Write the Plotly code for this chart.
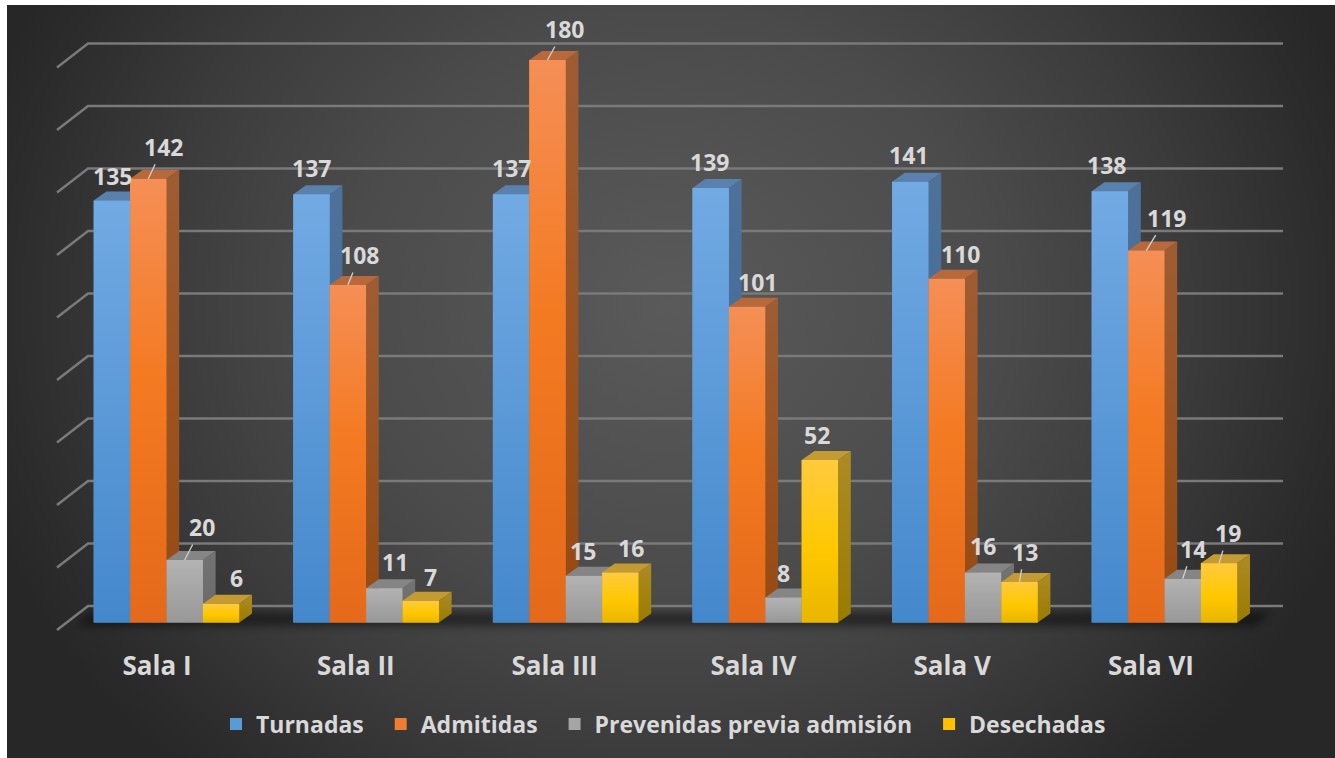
import base64
import plotly.graph_objects as go

# ---- data ----
categories = ["Sala I", "Sala II", "Sala III", "Sala IV", "Sala V", "Sala VI"]
turnadas = [135, 137, 137, 139, 141, 138]
admitidas = [142, 108, 180, 101, 110, 119]
prevenidas = [20, 11, 15, 8, 16, 14]
desechadas = [6, 7, 16, 52, 13, 19]
grid_values = [0, 20, 40, 60, 80, 100, 120, 140, 160, 180]

# ---- layout geometry (pixels of the 1335x758 page) ----
W, H = 1335, 758
PLOT_BOTTOM = 648
BASE_PX = 622.5
PX_PER_UNIT = 3.125
PX_PER_CAT = 199.6
CAT0_PX = 166.5


def dx(px):
    return px / PX_PER_CAT


def dy(px):
    return px / PX_PER_UNIT


BAR_W = dx(36.4)
DEPTH_X, DEPTH_Y = dx(12.7), dy(9)
GRID_BACK_Y = dy(16.5)
GRID_LEFT_BACK = dx(88 - CAT0_PX)
GRID_LEFT_FRONT = dx(57 - CAT0_PX)
GRID_RIGHT = dx(1283 - CAT0_PX)
GRID_FRONT_DROP = dy(24)

styles = [
    dict(name="Turnadas", values=turnadas, legend="#5b9bd5",
         front=[[0, "#72aae3"], [1, "#4488cc"]],
         side=[[0, "#4e7199"], [1, "#38699c"]], top="#5a81ad"),
    dict(name="Admitidas", values=admitidas, legend="#ed7d31",
         front=[[0, "#f58f56"], [0.45, "#f47a22"], [1, "#e4691a"]],
         side=[[0, "#9f5c33"], [1, "#974a10"]], top="#b7693c"),
    dict(name="Prevenidas previa admisión", values=prevenidas, legend="#a5a5a5",
         front=[[0, "#b3b3b3"], [1, "#989898"]],
         side=[[0, "#737373"], [1, "#696969"]], top="#858585"),
    dict(name="Desechadas", values=desechadas, legend="#ffc000",
         front=[[0, "#ffca3e"], [0.55, "#ffc800"], [1, "#e9b600"]],
         side=[[0, "#ad8b24"], [1, "#9a7b00"]], top="#c49a32"),
]

# label placement relative to the top of each bar: (dx px, dy px, leader)
label_offsets = [
    [(1, -25, 0), (0, -26, 0), (0, -26, 0), (-1, -26, 0), (-2, -27, 0), (-3, -26, 0)],
    [(15, -32, 1), (12, -30, 1), (17, -31, 1), (10, -25, 0), (14, -25, 0), (20, -33, 1)],
    [(17, -33, 1), (11, -26, 0), (-1, -25, 0), (0, -25, 0), (0, -27, 0), (10, -30, 1)],
    [(15, -26, 0), (10, -24, 0), (11, -25, 0), (-3, -25, 0), (5, -30, 1), (9, -30, 1)],
]

TEXT = "#d9d9d9"
FONT = "'Open Sans', Lato, sans-serif"
LEGEND_PAD = "\u00a0\u00a0"

# ---- background: radial gradient + soft floor shadow ----
BG_X, BG_Y = 7, 5
BG_W, BG_H = W - BG_X, H - BG_Y
svg = f"""<svg xmlns='http://www.w3.org/2000/svg' width='{BG_W}' height='{BG_H}' viewBox='0 0 {BG_W} {BG_H}'>
<defs>
<radialGradient id='g' gradientUnits='userSpaceOnUse' cx='0' cy='0' r='1' gradientTransform='translate(663 300) scale(720 640)'>
<stop offset='0' stop-color='#5a5a5a'/><stop offset='0.45' stop-color='#4b4b4b'/>
<stop offset='0.72' stop-color='#3b3b3b'/><stop offset='0.92' stop-color='#2c2c2c'/>
<stop offset='1' stop-color='#272727'/></radialGradient>
<filter id='b' x='-5%' y='-200%' width='110%' height='500%'><feGaussianBlur stdDeviation='4'/></filter>
</defs>
<rect width='{BG_W}' height='{BG_H}' fill='url(#g)'/>
<polygon points='68,621 1248,621 1265,607 85,607' fill='#000' fill-opacity='0.45' filter='url(#b)'/>
</svg>"""
bg_uri = "data:image/svg+xml;base64," + base64.b64encode(svg.encode()).decode()

fig = go.Figure()

# flat bars (give the legend entries and the value scale)
xs = list(range(len(categories)))
for k, st in enumerate(styles):
    fig.add_trace(go.Bar(x=xs, y=st["values"],
                         name=st["name"] + (LEGEND_PAD if k < len(styles) - 1 else ""),
                         marker=dict(color=st["legend"], line=dict(width=0)),
                         hoverinfo="skip"))

# grid: floor-to-back diagonal + back wall line
for g in grid_values:
    fig.add_trace(go.Scatter(
        x=[GRID_LEFT_FRONT, GRID_LEFT_BACK, GRID_RIGHT],
        y=[g + GRID_BACK_Y - GRID_FRONT_DROP, g + GRID_BACK_Y, g + GRID_BACK_Y],
        mode="lines", line=dict(color="#7a7a7a", width=2.5),
        showlegend=False, hoverinfo="skip"))


def poly(xv, yv, **kw):
    fig.add_trace(go.Scatter(x=xv, y=yv, mode="lines", fill="toself",
                             line=dict(width=0), showlegend=False,
                             hoverinfo="skip", **kw))


# 3-D faces, left to right so that nearer bars cover farther sides
for i in xs:
    for k, st in enumerate(styles):
        v = st["values"][i]
        x0 = i + (k - 2) * BAR_W
        x1 = x0 + BAR_W
        poly([x1, x1 + DEPTH_X, x1 + DEPTH_X, x1, x1],
             [0, DEPTH_Y, v + DEPTH_Y, v, 0],
             fillgradient=dict(type="vertical", colorscale=st["side"],
                               start=v + DEPTH_Y, stop=0))
        poly([x0, x1, x1 + DEPTH_X, x0 + DEPTH_X, x0],
             [v, v, v + DEPTH_Y, v + DEPTH_Y, v],
             fillcolor=st["top"])
        poly([x0, x1, x1, x0, x0], [0, 0, v, v, 0],
             fillgradient=dict(type="vertical", colorscale=st["front"],
                               start=v, stop=0))

# data labels
annotations = []
for k, st in enumerate(styles):
    for i, v in enumerate(st["values"]):
        ox, oy, leader = label_offsets[k][i]
        a = dict(x=i + (k - 1.5) * BAR_W, y=v, xref="x", yref="y", text=str(v),
                 font=dict(family=FONT, size=23, color=TEXT, weight="bold"),
                 xanchor="center", yanchor="middle")
        if leader:
            a.update(showarrow=True, arrowhead=0, arrowwidth=1.3,
                     arrowcolor="#d0d0d0", ax=ox, ay=oy, axref="pixel", ayref="pixel",
                     standoff=0, startstandoff=0)
        else:
            a.update(showarrow=False, xshift=ox, yshift=-oy)
        annotations.append(a)

fig.update_layout(
    width=W, height=H,
    margin=dict(l=0, r=0, t=0, b=H - PLOT_BOTTOM, pad=0),
    paper_bgcolor="white", plot_bgcolor="rgba(0,0,0,0)",
    barmode="group", bargap=1 - 4 * BAR_W, bargroupgap=0,
    font=dict(family=FONT, color=TEXT),
    showlegend=True,
    legend=dict(orientation="h", x=0.497, xanchor="center",
                y=-(724 - PLOT_BOTTOM) / PLOT_BOTTOM, yanchor="middle",
                font=dict(family=FONT, size=23, color=TEXT, weight="bold"),
                bgcolor="rgba(0,0,0,0)", itemclick=False, itemdoubleclick=False),
    xaxis=dict(range=[dx(-CAT0_PX), dx(W - CAT0_PX)], showgrid=False, zeroline=False,
               showline=False, ticks="",
               tickvals=[i - dx(9.5 + 0.8 * i) for i in xs], ticktext=categories,
               tickfont=dict(family=FONT, size=26, color=TEXT, weight="bold")),
    yaxis=dict(range=[dy(BASE_PX - PLOT_BOTTOM), dy(BASE_PX)], showgrid=False,
               zeroline=False, showline=False, showticklabels=False, ticks=""),
    annotations=annotations,
    images=[dict(source=bg_uri, xref="paper", yref="paper",
                 x=BG_X / W, y=1 - BG_Y / PLOT_BOTTOM,
                 sizex=BG_W / W, sizey=BG_H / PLOT_BOTTOM,
                 xanchor="left", yanchor="top", sizing="stretch", layer="below")],
)

fig.write_html("out.html", config=dict(displayModeBar=False),
               post_script="document.body.style.margin='0';document.body.style.overflow='hidden';")
